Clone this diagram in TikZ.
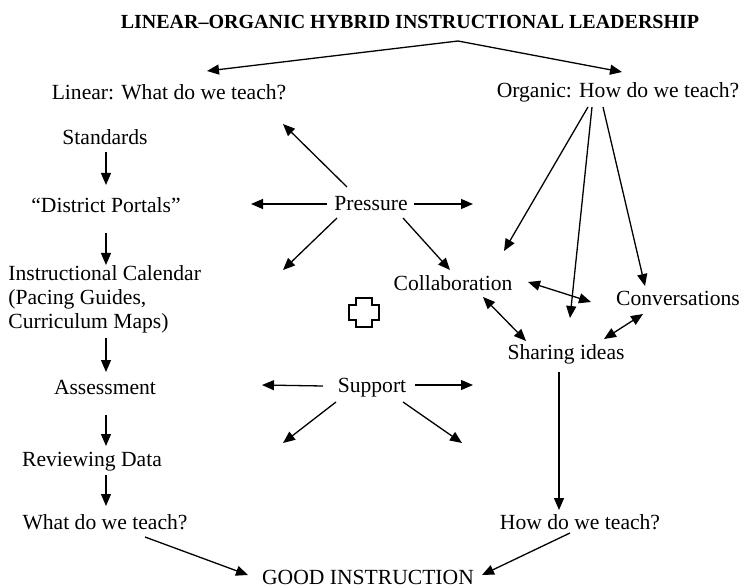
\documentclass[tikz,border=0pt]{standalone}
\usepackage{fontspec}
\setmainfont{Liberation Serif}
\usetikzlibrary{arrows.meta}
\begin{document}
\begin{tikzpicture}[x=0.5pt,y=-0.5pt,
  lbl/.style={inner sep=1pt, font=\fontsize{10.8}{12}\selectfont},
  tip/.style={Triangle[length=6pt,width=5pt]},
  arr/.style={line width=0.65pt, -{Triangle[length=6pt,width=5pt]}},
  dbl/.style={line width=0.65pt, {Triangle[length=6pt,width=5pt]}-{Triangle[length=6pt,width=5pt]}},
]
\useasboundingbox (0,0) rectangle (744,588);

% title and the two branches
\node[lbl, font=\fontsize{10}{11}\selectfont\bfseries] (title) at (410,22) {LINEAR–ORGANIC HYBRID INSTRUCTIONAL LEADERSHIP};
\coordinate (apex) at (458,41);
\node[lbl] (linear) at (169,92) {Linear: What do we teach?};
\node[lbl] (organic) at (618,92) {Organic: How do we teach?};
\coordinate (linTip) at (207,71);
\coordinate (orgTip) at (622,72);
\draw[arr] (apex) -- (linTip);
\draw[arr] (apex) -- (orgTip);

% linear column
\node[lbl] (standards) at (105,137) {Standards};
\node[lbl] (portals) at (106,205) {“District Portals”};
\node[lbl, align=left, anchor=west] (calendar) at (6,299) {Instructional Calendar\\(Pacing Guides,\\Curriculum Maps)};
\node[lbl] (assess) at (105,387) {Assessment};
\node[lbl] (review) at (92,462) {Reviewing Data};
\node[lbl] (what) at (105,522) {What do we teach?};
\draw[arr] (106,152) -- (106,185);
\draw[arr] (106,233) -- (106,265);
\draw[arr] (106,338) -- (106,372);
\draw[arr] (106,415) -- (106,446);
\draw[arr] (106,475) -- (106,506);

% pressure
\node[lbl] (pressure) at (371,204) {Pressure};
\draw[arr] (327,204) -- (251,204);
\draw[arr] (414,204) -- (473,204);
\draw[arr] (347,187) -- (283,124);
\draw[arr] (337,218) -- (283,270);
\draw[arr] (403,218) -- (450,270);

% plus sign
\draw[line width=0.65pt] (356,298) -- (372,298) -- (372,305) -- (379,305) -- (379,320)
  -- (372,320) -- (372,327) -- (356,327) -- (356,320) -- (349,320) -- (349,305)
  -- (356,305) -- cycle;

% support
\node[lbl] (support) at (372,388) {Support};
\draw[arr] (323,386) -- (262,385);
\draw[arr] (415,385) -- (473,385);
\draw[arr] (336,402) -- (283,443);
\draw[arr] (403,402) -- (462,443);

% organic side
\node[lbl] (collab) at (453,283) {Collaboration};
\node[lbl] (conv) at (678,298) {Conversations};
\node[lbl] (sharing) at (566,354) {Sharing ideas};
\node[lbl] (how) at (580,522) {How do we teach?};
\draw[arr] (588,107) -- (504,251);
\draw[arr] (592,107) -- (570,318);
\draw[arr] (603,107) -- (645,286);
\draw[dbl] (528,282) -- (591,302);
\draw[dbl] (483,297) -- (526,341);
\draw[dbl] (604,339) -- (643,314);
\draw[arr] (559,372) -- (559,510);

% outcome
\node[lbl] (good) at (368,577) {GOOD INSTRUCTION};
\draw[arr] (145,537) -- (248,575);
\draw[arr] (570,533) -- (482,575);
\end{tikzpicture}
\end{document}
